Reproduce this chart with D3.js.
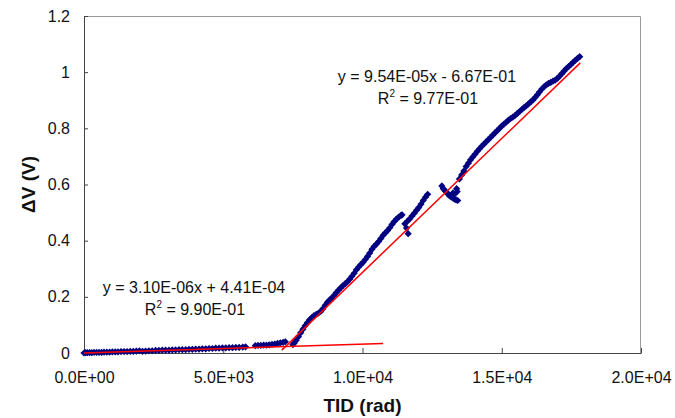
<!DOCTYPE html>
<html>
<head>
<meta charset="utf-8">
<script src="https://cdn.jsdelivr.net/npm/d3@7"></script>
<style>
  body { margin: 0; background: #fff; overflow: hidden; }
  svg { display: block; }
  text { font-family: Arial, "Liberation Sans", sans-serif; }
</style>
</head>
<body>
<div id="chart"></div>
<script>
// measured points: TID (rad) and delta V (V)
const tid = [
  0, 60, 120, 200, 280, 360, 450, 540, 630, 720, 820, 920, 1020, 1120, 1220, 1330, 1440, 1550, 1660, 1770,
  1880, 1990, 2100, 2210, 2330, 2450, 2570, 2690, 2810, 2930, 3050, 3170, 3290, 3410, 3530, 3650, 3770, 3890,
  4010, 4130, 4250, 4370, 4490, 4610, 4730, 4850, 4970, 5090, 5210, 5330, 5450, 5570, 5700, 5800,
  6150, 6250, 6350, 6450, 6550, 6650, 6750, 6850, 6950, 7050, 7150, 7230,
  7500, 7550, 7620, 7700, 7780, 7860, 7940, 8020, 8100, 8180, 8260, 8340, 8420, 8500, 8580, 8660, 8740, 8820,
  8900, 8980, 9060, 9140, 9220, 9300, 9380, 9460, 9540, 9620, 9700, 9780, 9860, 9940, 10020, 10100, 10180,
  10260, 10340, 10420, 10500, 10580, 10660, 10740, 10820, 10900, 10980, 11060, 11140, 11220, 11300, 11380, 11420,
  11520, 11580, 11640, 11620, 11700, 11780, 11860, 11940, 12020, 12100, 12180, 12260, 12340,
  12850, 12900, 12960, 13020, 13080, 13120, 13180, 13240, 13300, 13360, 13420, 13400, 13380, 13300, 13250,
  13480, 13560, 13640, 13720, 13800, 13880, 13960, 14040, 14120, 14200, 14280, 14360, 14440, 14520, 14600,
  14680, 14760, 14840, 14920, 15000, 15080, 15160, 15240, 15320, 15400, 15480, 15560, 15640, 15720, 15800,
  15880, 15960, 16040, 16120, 16200, 16280, 16360, 16440, 16520, 16600, 16680, 16760, 16840, 16920, 17000,
  17080, 17160, 17240, 17320, 17400, 17480, 17560, 17640, 17720, 17800
];
const deltaV = [
  0.000, 0.001, 0.001, 0.001, 0.001, 0.002, 0.002, 0.002, 0.002, 0.003, 0.003, 0.003, 0.004, 0.004, 0.004, 0.005, 0.005, 0.005, 0.006, 0.006,
  0.007, 0.008, 0.006, 0.007, 0.008, 0.008, 0.009, 0.009, 0.010, 0.010, 0.010, 0.011, 0.011, 0.012, 0.012, 0.012, 0.013, 0.013,
  0.014, 0.014, 0.015, 0.015, 0.016, 0.016, 0.017, 0.017, 0.018, 0.018, 0.019, 0.019, 0.020, 0.020, 0.021, 0.022,
  0.026, 0.027, 0.027, 0.028, 0.028, 0.029, 0.031, 0.032, 0.034, 0.036, 0.038, 0.040,
  0.030, 0.036, 0.045, 0.058, 0.072, 0.085, 0.097, 0.108, 0.118, 0.126, 0.133, 0.138, 0.142, 0.148, 0.158, 0.170, 0.181, 0.189,
  0.196, 0.205, 0.215, 0.224, 0.232, 0.240, 0.247, 0.254, 0.263, 0.273, 0.284, 0.296, 0.306, 0.315, 0.323, 0.333, 0.344,
  0.356, 0.369, 0.380, 0.388, 0.397, 0.408, 0.419, 0.428, 0.436, 0.446, 0.458, 0.468, 0.477, 0.484, 0.490, 0.492,
  0.460, 0.445, 0.425, 0.470, 0.478, 0.488, 0.498, 0.508, 0.518, 0.530, 0.543, 0.555, 0.565,
  0.595, 0.585, 0.578, 0.572, 0.565, 0.560, 0.556, 0.552, 0.548, 0.545, 0.543, 0.575, 0.585, 0.565, 0.570,
  0.620, 0.634, 0.648, 0.664, 0.676, 0.688, 0.698, 0.708, 0.718, 0.727, 0.736, 0.744, 0.752, 0.760, 0.768,
  0.776, 0.784, 0.792, 0.800, 0.808, 0.815, 0.822, 0.829, 0.835, 0.840, 0.846, 0.853, 0.860, 0.867, 0.874,
  0.880, 0.887, 0.894, 0.901, 0.910, 0.920, 0.930, 0.940, 0.948, 0.955, 0.960, 0.964, 0.968, 0.972, 0.978,
  0.986, 0.995, 1.004, 1.013, 1.020, 1.027, 1.035, 1.042, 1.049, 1.055
];

// linear trendlines as printed on the chart
const fitSlopes = [3.10e-6, 9.54e-5];
const fitIntercepts = [4.41e-4, -6.67e-1];
const fitStarts = [0, 7100];
const fitEnds = [10740, 17820];
const fitEquations = ["y = 3.10E-06x + 4.41E-04", "y = 9.54E-05x - 6.67E-01"];
const fitR2 = ["9.90E-01", "9.77E-01"];

const xTicks = [0, 5000, 10000, 15000, 20000];
const xTickLabels = ["0.0E+00", "5.0E+03", "1.0E+04", "1.5E+04", "2.0E+04"];
const yTicks = [0, 0.2, 0.4, 0.6, 0.8, 1, 1.2];
const yTickLabels = ["0", "0.2", "0.4", "0.6", "0.8", "1", "1.2"];

const width = 675;
const height = 418;
const margin = {top: 16, right: 34, bottom: 65, left: 84};
const innerWidth = width - margin.left - margin.right;
const innerHeight = height - margin.top - margin.bottom;

const svg = d3.select("#chart")
  .append("svg")
    .attr("width", width)
    .attr("height", height);

const inner = svg.append("g")
  .attr("transform", `translate(${margin.left}, ${margin.top})`);

const xScale = d3.scaleLinear().domain([0, 20000]).range([0, innerWidth]);
const yScale = d3.scaleLinear().domain([0, 1.2]).range([innerHeight, 0]);

// plot frame (top and right)
inner.append("path")
  .attr("d", `M0,0.5H${innerWidth - 0.5}V${innerHeight}`)
  .attr("fill", "none")
  .attr("stroke", "#999")
  .attr("stroke-width", 1);

const xAxis = d3.axisBottom(xScale)
  .tickValues(xTicks)
  .tickFormat((d, i) => xTickLabels[i])
  .tickSizeInner(-5)
  .tickSizeOuter(0)
  .tickPadding(19);

const yAxis = d3.axisLeft(yScale)
  .tickValues(yTicks)
  .tickFormat((d, i) => yTickLabels[i])
  .tickSizeInner(-4)
  .tickSizeOuter(0)
  .tickPadding(14);

const gx = inner.append("g")
  .attr("transform", `translate(0, ${innerHeight})`)
  .call(xAxis);
const gy = inner.append("g").call(yAxis);

[gx, gy].forEach(g => {
  g.attr("font-size", 16).attr("font-family", "Arial, 'Liberation Sans', sans-serif");
  g.select(".domain").attr("stroke", "#444");
  g.selectAll(".tick line").attr("stroke", "#444");
  g.selectAll(".tick text").attr("fill", "#111");
});

// data points
const points = tid.map((t, i) => ({tid: t, dv: deltaV[i]}));
const diamond = d3.symbol().type(d3.symbolSquare).size(26);

inner.append("g")
  .selectAll("path")
  .data(points)
  .join("path")
    .attr("d", diamond)
    .attr("transform", d => `translate(${xScale(d.tid)}, ${yScale(d.dv)}) rotate(45)`)
    .attr("fill", "#000080");

// trendlines
const fits = fitSlopes.map((m, i) => ({m, b: fitIntercepts[i], x0: fitStarts[i], x1: fitEnds[i]}));

inner.append("g")
  .selectAll("line")
  .data(fits)
  .join("line")
    .attr("x1", d => xScale(d.x0))
    .attr("y1", d => yScale(d.m * d.x0 + d.b))
    .attr("x2", d => xScale(d.x1))
    .attr("y2", d => yScale(d.m * d.x1 + d.b))
    .attr("stroke", "#ff0000")
    .attr("stroke-width", 1.5);

// trendline labels
const labelPos = [{x: 194, y: 293}, {x: 427, y: 82}];
labelPos.forEach((p, i) => {
  svg.append("text")
    .attr("x", p.x)
    .attr("y", p.y)
    .attr("text-anchor", "middle")
    .attr("font-size", 16)
    .attr("fill", "#111")
    .text(fitEquations[i]);

  const r = svg.append("text")
    .attr("x", p.x + 1)
    .attr("y", p.y + 22)
    .attr("text-anchor", "middle")
    .attr("font-size", 16)
    .attr("fill", "#111");
  r.append("tspan").text("R");
  r.append("tspan").attr("dy", -7).attr("font-size", 10).text("2");
  r.append("tspan").attr("dy", 7).text(" = " + fitR2[i]);
});

// axis titles
svg.append("text")
  .attr("transform", `translate(35, ${margin.top + innerHeight / 2}) rotate(-90)`)
  .attr("text-anchor", "middle")
  .attr("font-size", 19)
  .attr("font-weight", "bold")
  .attr("fill", "#111")
  .text("ΔV (V)");

svg.append("text")
  .attr("x", margin.left + innerWidth / 2)
  .attr("y", 412)
  .attr("text-anchor", "middle")
  .attr("font-size", 19)
  .attr("font-weight", "bold")
  .attr("fill", "#111")
  .text("TID (rad)");
</script>
</body>
</html>
